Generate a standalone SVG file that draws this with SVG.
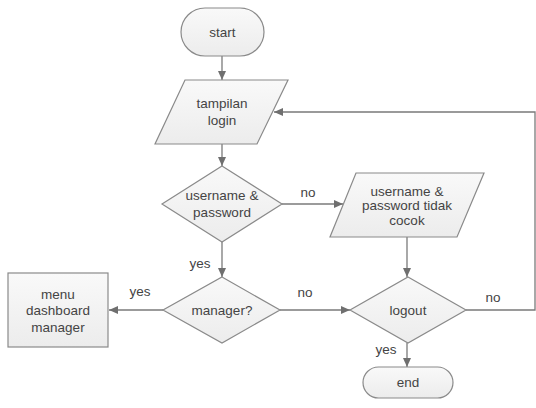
<svg xmlns="http://www.w3.org/2000/svg" width="536" height="408" viewBox="0 0 536 408">
<style>
.s{fill:url(#g);stroke:#8a8a8a;stroke-width:1.2}
.t{font-family:"Liberation Sans",Arial,sans-serif;font-size:13.5px;fill:#444;text-anchor:middle}
.c{fill:none;stroke:#7a7a7a;stroke-width:1.3}
</style>
<defs>
<linearGradient id="g" x1="0" y1="0" x2="0" y2="1">
<stop offset="0" stop-color="#f9f9f9"/>
<stop offset="1" stop-color="#ececec"/>
</linearGradient>
<marker id="a" markerWidth="10" markerHeight="8" refX="9" refY="4" orient="auto" markerUnits="userSpaceOnUse">
<path d="M0,0 L9,4 L0,8 Z" fill="#6f6f6f"/>
</marker>
</defs>
<rect width="536" height="408" fill="#fff"/>
<g id="connectors">
<line class="c" x1="222" y1="56" x2="222" y2="80" marker-end="url(#a)"/>
<line class="c" x1="222" y1="144" x2="222" y2="166" marker-end="url(#a)"/>
<line class="c" x1="282" y1="204" x2="343" y2="204" marker-end="url(#a)"/>
<line class="c" x1="222" y1="242" x2="222" y2="277" marker-end="url(#a)"/>
<line class="c" x1="163" y1="310" x2="109" y2="310" marker-end="url(#a)"/>
<line class="c" x1="280" y1="310" x2="350" y2="310" marker-end="url(#a)"/>
<line class="c" x1="407" y1="237" x2="407" y2="277" marker-end="url(#a)"/>
<line class="c" x1="407" y1="343" x2="407" y2="367" marker-end="url(#a)"/>
<polyline class="c" points="466,310 535,310 535,112 274,112" marker-end="url(#a)"/>
<text class="t" x="308" y="197">no</text>
<text class="t" x="200" y="268">yes</text>
<text class="t" x="140" y="296">yes</text>
<text class="t" x="305" y="297">no</text>
<text class="t" x="493" y="302">no</text>
<text class="t" x="386" y="354">yes</text>
</g>
<g id="start">
<rect class="s" x="181" y="8" width="83" height="48" rx="24"/>
<text class="t" x="222.5" y="37">start</text>
</g>
<g id="tampilan-login">
<polygon class="s" points="185,80 288,80 257,144 155,144"/>
<text class="t" x="222" y="108">tampilan</text>
<text class="t" x="222" y="125">login</text>
</g>
<g id="username-password">
<polygon class="s" points="222,166 282,204 222,242 162,204"/>
<text class="t" x="222" y="200">username &amp;</text>
<text class="t" x="222" y="217">password</text>
</g>
<g id="tidak-cocok">
<polygon class="s" points="356,173 484,173 457,237 330,237"/>
<text class="t" x="407" y="196">username &amp;</text>
<text class="t" x="407" y="210">password tidak</text>
<text class="t" x="407" y="225">cocok</text>
</g>
<g id="manager">
<polygon class="s" points="222,277 280,310 222,343 163,310"/>
<text class="t" x="222" y="315">manager?</text>
</g>
<g id="menu-dashboard">
<rect class="s" x="8" y="273" width="100" height="74"/>
<text class="t" x="58" y="299">menu</text>
<text class="t" x="58" y="315">dashboard</text>
<text class="t" x="58" y="332">manager</text>
</g>
<g id="logout">
<polygon class="s" points="408,277 466,310 408,343 350,310"/>
<text class="t" x="408" y="315">logout</text>
</g>
<g id="end">
<rect class="s" x="363" y="367" width="90" height="31" rx="15.5"/>
<text class="t" x="408" y="387">end</text>
</g>
</svg>
